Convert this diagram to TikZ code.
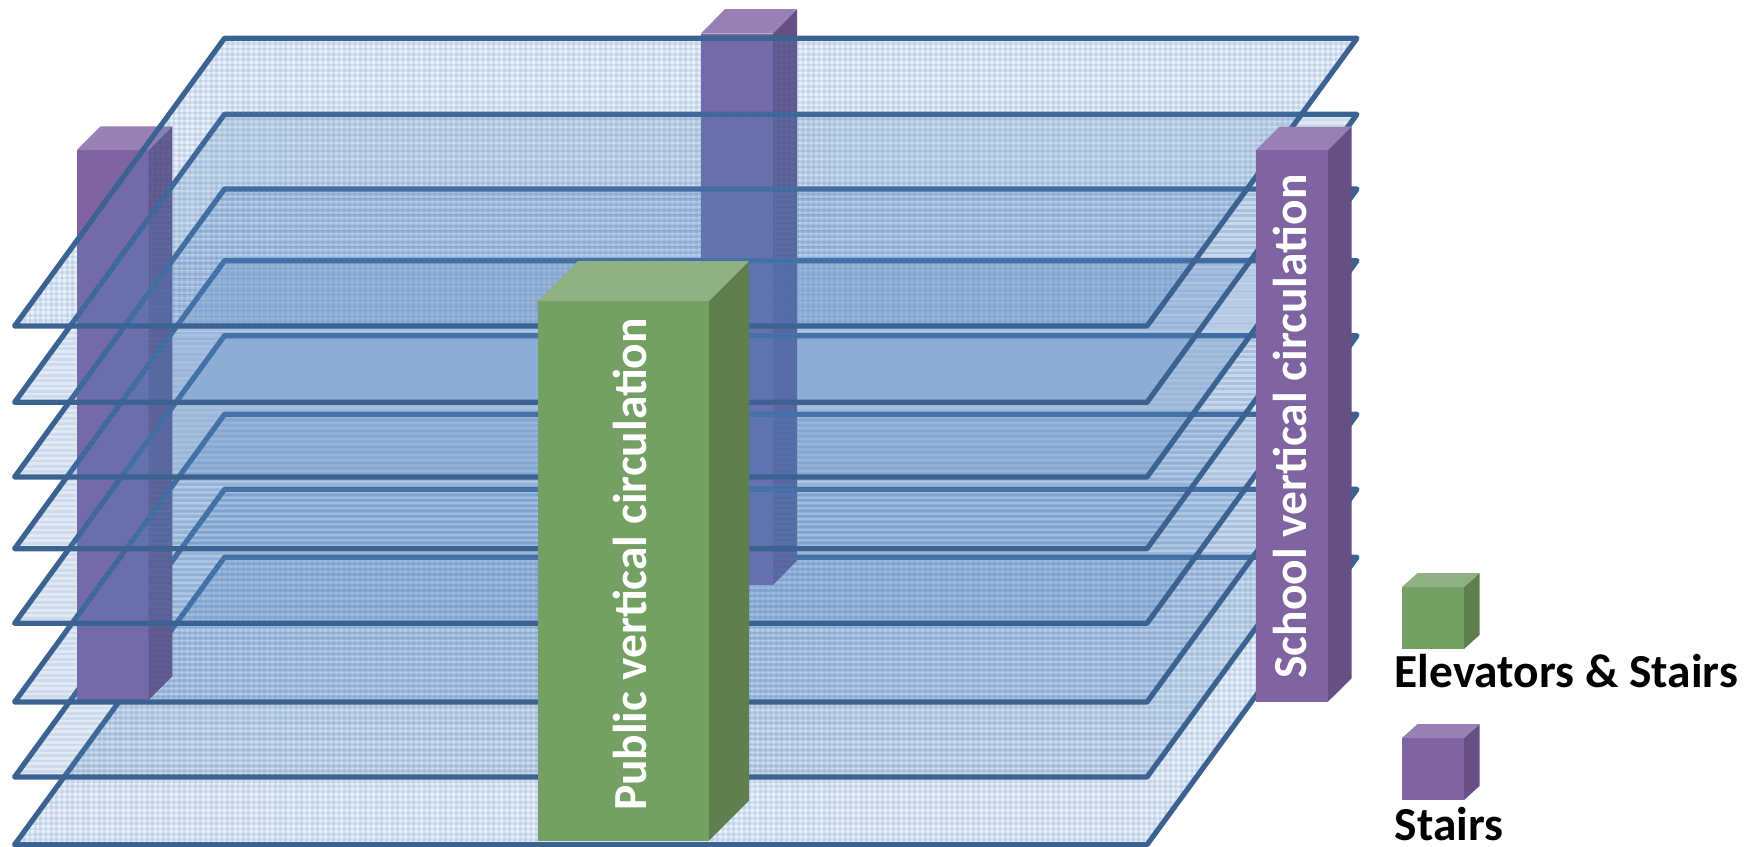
\documentclass[tikz,border=0pt]{standalone}
\usepackage{fontspec}
\setmainfont{Carlito}
\definecolor{planeline}{HTML}{3B6291}
\definecolor{planefill}{HTML}{4F81BD}
\definecolor{purF}{HTML}{8064A2}
\definecolor{purS}{HTML}{664F82}
\definecolor{purT}{HTML}{9980B4}
\definecolor{grnF}{HTML}{75A064}
\definecolor{grnS}{HTML}{5F7F4F}
\definecolor{grnT}{HTML}{8FB083}
\tikzset{
  floorrule/.style={draw=planefill,draw opacity=0.14,line width=2.67pt},
  flooredge/.style={draw=planeline,line width=5.2pt,line join=round,fill=none},
  legendtext/.style={font=\bfseries\fontsize{47.4}{47.4}\selectfont,text=black,anchor=base west,inner sep=0pt},
  boxtext/.style={font=\bfseries\fontsize{47.5}{47.5}\selectfont,text=white,anchor=base,rotate=90,inner sep=0pt}
}
% #1 back y, #2 front y, #3 base opacity, #4 code for extra rules
\newcommand{\floorplane}[4]{%
  \fill[planefill,fill opacity=#3] (224.5,#1) -- (1357,#1) -- (1147,#2) -- (14.6,#2) -- cycle;
  \begin{scope}
    \clip (224.5,#1) -- (1357,#1) -- (1147,#2) -- (14.6,#2) -- cycle;
    \foreach \k in {0,...,54} {
      \draw[floorrule] (0,#1+5.33*\k) -- (1400,#1+5.33*\k);
    }
    #4
  \end{scope}
  \draw[flooredge] (224.5,#1) -- (1357,#1) -- (1147,#2) -- (14.6,#2) -- cycle;
}
\newcommand{\floorcolumns}[2]{%
  \foreach \k in {0,...,253} {
    \draw[floorrule] (14+5.33*\k,#1) -- (14+5.33*\k,#2);
  }
}
% x0 x1 dx ytop ybot dy colours prefix
\newcommand{\prism}[7]{%
  \fill[#7F] (#1,#4) rectangle (#2,#5);
  \fill[#7S] (#2,#4) -- (#2+#3,#4-#6) -- (#2+#3,#5-#6) -- (#2,#5) -- cycle;
  \fill[#7T] (#1,#4) -- (#1+#3,#4-#6) -- (#2+#3,#4-#6) -- (#2,#4) -- cycle;
}
\begin{document}
\begin{tikzpicture}[x=1pt,y=-1pt]
\useasboundingbox (0,0) rectangle (1760,846);
\floorplane{557.3}{844.7}{0.12}{\floorcolumns{557.3}{844.7}}
\prism{701}{773}{24}{33.5}{585}{24.5}{pur}
\floorplane{489.3}{777}{0.17}{}
\prism{77}{148.7}{23.6}{150}{700}{23.7}{pur}
\floorplane{414.3}{702}{0.17}{}
\floorplane{335.7}{623.3}{0.17}{}
\floorplane{260.7}{548.7}{0.17}{}
\floorplane{189}{477}{0.17}{}
\floorplane{114.3}{402.3}{0.17}{}
\floorplane{38.3}{326}{0.12}{\floorcolumns{38.3}{326}}
\prism{1256}{1328}{23.5}{150}{701.7}{23.4}{pur}
\prism{538}{709}{40}{301}{840.7}{40}{grn}
\prism{1402}{1464}{15.5}{587}{649}{14}{grn}
\prism{1402}{1464}{15.5}{738}{800}{14}{pur}
\node[boxtext] (public) at (646.6,564.5) {Public vertical circulation};
\node[boxtext] (school) at (1306.5,426.5) {School vertical circulation};
\node[legendtext] (elev) at (1394.6,687) {Elevators \& Stairs};
\node[legendtext] (stairs) at (1394.6,840.7) {Stairs};
\end{tikzpicture}
\end{document}
